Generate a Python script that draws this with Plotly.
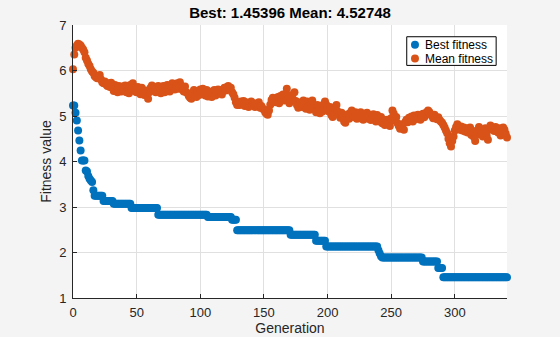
import plotly.graph_objects as go

# Best fitness: step levels and the last generation each level holds
best_levels = [5.23, 5.07, 4.90, 4.68, 4.46, 4.24, 4.02, 3.80, 3.78, 3.68, 3.62, 3.58, 3.55,
               3.37, 3.25, 3.13, 3.07, 2.98, 2.83, 2.78, 2.72, 2.49, 2.39, 2.26, 2.13,
               2.05, 1.98, 1.92, 1.89, 1.80, 1.66, 1.45396]
best_until = [1, 2, 3, 4, 5, 6, 9, 10, 11, 12, 13, 14, 15,
              16, 23, 31, 45, 66, 105, 124, 128, 170, 190, 198, 239,
              240, 241, 242, 274, 286, 290, 341]

mean_fitness = [
    6.03, 6.35, 6.50, 6.55, 6.59, 6.57, 6.55, 6.50, 6.46, 6.40,
    6.28, 6.22, 6.15, 6.10, 6.03, 5.98, 5.95, 5.88, 5.85, 5.83,
    5.86, 5.90, 5.80, 5.74, 5.72, 5.76, 5.70, 5.66, 5.72, 5.64,
    5.73, 5.62, 5.55, 5.68, 5.58, 5.52, 5.66, 5.60, 5.54, 5.65,
    5.58, 5.67, 5.52, 5.62, 5.50, 5.68, 5.60, 5.72, 5.62, 5.54,
    5.52, 5.64, 5.55, 5.48, 5.62, 5.52, 5.46, 5.56, 5.45, 5.38,
    5.52, 5.62, 5.67, 5.58, 5.64, 5.52, 5.62, 5.66, 5.54, 5.50,
    5.60, 5.66, 5.52, 5.62, 5.68, 5.58, 5.54, 5.67, 5.72, 5.64,
    5.58, 5.68, 5.72, 5.60, 5.74, 5.66, 5.58, 5.54, 5.65, 5.52,
    5.50, 5.44, 5.40, 5.38, 5.50, 5.57, 5.46, 5.42, 5.54, 5.46,
    5.58, 5.48, 5.60, 5.50, 5.45, 5.57, 5.43, 5.54, 5.48, 5.42,
    5.52, 5.57, 5.45, 5.54, 5.58, 5.50, 5.56, 5.47, 5.58, 5.62,
    5.56, 5.64, 5.66, 5.58, 5.62, 5.52, 5.48, 5.40, 5.30, 5.24,
    5.30, 5.24, 5.32, 5.27, 5.33, 5.22, 5.30, 5.25, 5.20, 5.28,
    5.32, 5.24, 5.28, 5.20, 5.26, 5.22, 5.30, 5.18, 5.22, 5.16,
    5.15, 5.08, 5.05, 5.03, 5.12, 5.25, 5.35, 5.40, 5.36, 5.30,
    5.37, 5.42, 5.28, 5.44, 5.36, 5.47, 5.34, 5.48, 5.60, 5.42,
    5.28, 5.40, 5.46, 5.36, 5.52, 5.33, 5.24, 5.18, 5.24, 5.30,
    5.20, 5.34, 5.24, 5.16, 5.32, 5.22, 5.14, 5.30, 5.34, 5.20,
    5.16, 5.08, 5.24, 5.12, 5.06, 5.22, 5.10, 5.26, 5.32, 5.25,
    5.18, 5.10, 5.20, 5.02, 4.98, 5.12, 5.16, 5.24, 5.10, 5.02,
    4.96, 5.07, 4.98, 4.88, 4.85, 4.97, 5.04, 4.94, 5.07, 5.12,
    5.06, 4.98, 5.08, 4.94, 5.04, 4.95, 5.08, 4.98, 4.92, 5.05,
    4.96, 5.07, 4.94, 5.02, 4.91, 5.00, 5.04, 4.93, 4.88, 5.02,
    4.94, 4.88, 4.98, 4.84, 4.92, 4.80, 4.88, 4.92, 4.82, 4.78,
    4.95, 5.12, 5.05, 4.90, 4.98, 4.84, 4.78, 4.72, 4.74, 4.82,
    4.70, 4.86, 4.92, 4.86, 4.96, 4.90, 4.99, 4.88, 5.01, 4.93,
    4.98, 5.03, 4.95, 4.92, 5.01, 5.05, 4.97, 5.06, 5.08, 5.12,
    5.09, 5.04, 5.00, 4.95, 5.03, 4.97, 4.93, 4.97, 4.91, 4.88,
    4.85, 4.80, 4.75, 4.68, 4.62, 4.50, 4.40, 4.33, 4.45, 4.55,
    4.68, 4.76, 4.82, 4.77, 4.70, 4.77, 4.68, 4.75, 4.66, 4.73,
    4.64, 4.71, 4.75, 4.58, 4.67, 4.54, 4.45, 4.58, 4.69, 4.76,
    4.70, 4.61, 4.55, 4.66, 4.73, 4.57, 4.48, 4.70, 4.79, 4.74,
    4.72, 4.67, 4.76, 4.69, 4.64, 4.73, 4.57, 4.60, 4.75, 4.70,
    4.61, 4.52748,
]

series_names = ["Best fitness", "Mean fitness"]
x_ticks = [0, 50, 100, 150, 200, 250, 300]
y_ticks = [1, 2, 3, 4, 5, 6, 7]
title_text = "Best: 1.45396 Mean: 4.52748"

generations = list(range(len(mean_fitness)))
best_fitness = []
start = 0
for level, until in zip(best_levels, best_until):
    best_fitness += [level] * (until - start + 1)
    start = until + 1

BLUE = "#0072BD"
ORANGE = "#D95319"
AX = "#262626"
FONT = "Liberation Sans, Arial, sans-serif"

fig = go.Figure()
fig.add_trace(go.Scatter(x=generations, y=best_fitness, mode="markers", name=series_names[0],
                         marker=dict(color=BLUE, size=8, line=dict(width=0)), cliponaxis=False))
fig.add_trace(go.Scatter(x=generations, y=mean_fitness, mode="markers", name=series_names[1],
                         marker=dict(color=ORANGE, size=8, line=dict(width=0)), cliponaxis=False))

# Compact MATLAB-style legend box (paper coordinates)
lx0, lx1, ly0, ly1 = 0.769, 0.975, 0.852, 0.957
row_y = [0.928, 0.877]
dot_x, dot_rx, dot_ry = 0.788, 0.0092, 0.0147
fig.add_shape(type="rect", xref="paper", yref="paper", x0=lx0, x1=lx1, y0=ly0, y1=ly1,
              line=dict(color="#000000", width=1), fillcolor="white", layer="above")
for name, col, yy in zip(series_names, [BLUE, ORANGE], row_y):
    fig.add_shape(type="circle", xref="paper", yref="paper",
                  x0=dot_x - dot_rx, x1=dot_x + dot_rx, y0=yy - dot_ry, y1=yy + dot_ry,
                  line=dict(width=0), fillcolor=col, layer="above")
    fig.add_annotation(xref="paper", yref="paper", x=0.806, y=yy, height=13,
                       xanchor="left", yanchor="middle", showarrow=False, text=name,
                       font=dict(size=12, color="#000000", family=FONT))

fig.update_layout(
    width=560, height=337,
    margin=dict(l=73, r=53, t=25, b=39, autoexpand=False),
    paper_bgcolor="#f4f4f4", plot_bgcolor="white",
    font=dict(family=FONT, size=13, color=AX),
    title=dict(text="<b>" + title_text + "</b>", x=0.518, xanchor="center", y=0.963, yanchor="middle",
               font=dict(size=15, color="#000000")),
    showlegend=False,
)
fig.update_xaxes(range=[0, 341], tickvals=x_ticks, showline=True, linecolor=AX, linewidth=1,
                 ticks="inside", ticklen=4, tickcolor=AX, showgrid=True, gridcolor="#e0e0e0",
                 zeroline=False, mirror=False, automargin=False,
                 title=dict(text="Generation", font=dict(size=14), standoff=2),
                 ticklabelstandoff=2)
fig.update_yaxes(range=[1, 7], tickvals=y_ticks, showline=True, linecolor=AX, linewidth=1,
                 ticks="inside", ticklen=4, tickcolor=AX, showgrid=True, gridcolor="#e0e0e0",
                 zeroline=False, mirror=False, automargin=False,
                 title=dict(text="Fitness value", font=dict(size=14), standoff=4),
                 ticklabelstandoff=3)

fig.write_html("out.html")
